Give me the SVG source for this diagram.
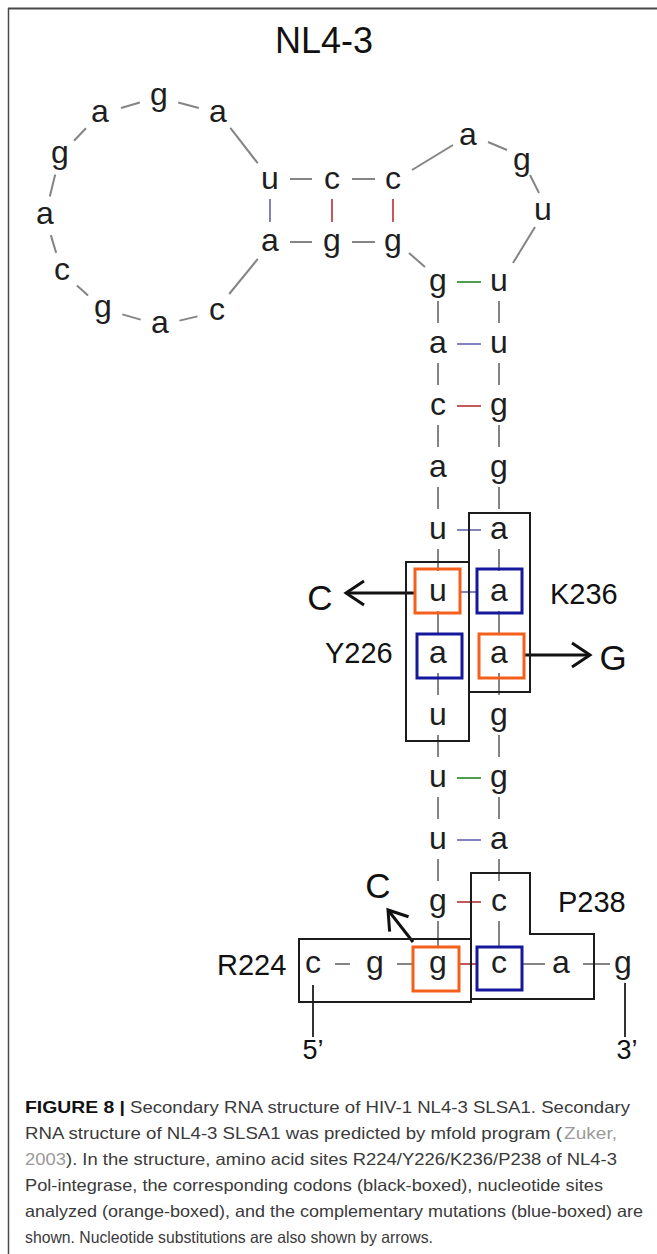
<svg xmlns="http://www.w3.org/2000/svg" width="657" height="1254" viewBox="0 0 657 1254">
  <style>
    .nt { font-family: "Liberation Sans", Arial, sans-serif; font-size: 32px; fill: #1e1e1e; text-anchor: middle; }
    .lbl { font-family: "Liberation Sans", Arial, sans-serif; font-size: 29px; fill: #111; }
    .sub { font-family: "Liberation Sans", Arial, sans-serif; font-size: 35px; fill: #111; text-anchor: middle; }
    .bb { stroke: #848484; stroke-width: 2; fill: none; }
    .au { stroke: #8282bc; stroke-width: 2; }
    .gc { stroke: #c4585a; stroke-width: 2; }
    .gu { stroke: #4e9e50; stroke-width: 2; }
    .end { stroke: #333; stroke-width: 2; }
    .codon { fill: none; stroke: #1c1c1c; stroke-width: 2; }
    .site { fill: none; stroke: #f4601c; stroke-width: 3; }
    .comp { fill: none; stroke: #15189a; stroke-width: 3; }
    .arr { stroke: #111; stroke-width: 3; fill: none; marker-end: url(#chev); }
    .cap { font-family: "Liberation Sans", Arial, sans-serif; font-size: 16.5px; fill: #3a3a3a; }
    .capb { font-family: "Liberation Sans", Arial, sans-serif; font-size: 16.5px; font-weight: bold; fill: #111; }
    .ref { fill: #9a9a9a; }
  </style>
  <defs>
    <marker id="chev" viewBox="-2 -14 24 28" refX="18" refY="0" markerWidth="24" markerHeight="28" markerUnits="userSpaceOnUse" orient="auto">
      <path d="M0,-12 L18,0 L0,12" fill="none" stroke="#111" stroke-width="3"/>
    </marker>
  </defs>

  <rect width="657" height="1254" fill="#fff"/>
  <!-- figure frame: top rule and left rule -->
  <line x1="8" y1="8.5" x2="657" y2="8.5" stroke="#4a4a4a" stroke-width="2"/>
  <line x1="8.5" y1="8" x2="8.5" y2="1254" stroke="#4a4a4a" stroke-width="1.5"/>

  <text id="title" x="324" y="53" font-family="'Liberation Sans', Arial, sans-serif" font-size="36" fill="#111" text-anchor="middle">NL4-3</text>

  <!-- backbone and base-pair connectors -->
  <g id="connectors">
    <!-- terminal leads -->
    <line class="end" x1="313" y1="985" x2="313" y2="1037"/>
    <line class="end" x1="625" y1="983" x2="625" y2="1037"/>
    <!-- bottom row backbone -->
    <line class="bb" x1="335" y1="964" x2="350" y2="964"/>
    <line class="bb" x1="397" y1="964" x2="413" y2="964"/>
    <line class="bb" x1="523" y1="964" x2="545" y2="964"/>
    <line class="bb" x1="583" y1="964" x2="610" y2="964"/>
    <!-- stem backbone, left column -->
    <line class="bb" x1="438" y1="301" x2="438" y2="323"/>
    <line class="bb" x1="438" y1="363" x2="438" y2="385"/>
    <line class="bb" x1="438" y1="425" x2="438" y2="447"/>
    <line class="bb" x1="438" y1="487" x2="438" y2="509"/>
    <line class="bb" x1="438" y1="549" x2="438" y2="571"/>
    <line class="bb" x1="438" y1="611" x2="438" y2="633"/>
    <line class="bb" x1="438" y1="673" x2="438" y2="695"/>
    <line class="bb" x1="438" y1="735" x2="438" y2="757"/>
    <line class="bb" x1="438" y1="797" x2="438" y2="819"/>
    <line class="bb" x1="438" y1="859" x2="438" y2="881"/>
    <line class="bb" x1="438" y1="921" x2="438" y2="947"/>
    <!-- stem backbone, right column -->
    <line class="bb" x1="499" y1="301" x2="499" y2="323"/>
    <line class="bb" x1="499" y1="363" x2="499" y2="385"/>
    <line class="bb" x1="499" y1="425" x2="499" y2="447"/>
    <line class="bb" x1="499" y1="487" x2="499" y2="509"/>
    <line class="bb" x1="499" y1="549" x2="499" y2="571"/>
    <line class="bb" x1="499" y1="611" x2="499" y2="633"/>
    <line class="bb" x1="499" y1="673" x2="499" y2="695"/>
    <line class="bb" x1="499" y1="735" x2="499" y2="757"/>
    <line class="bb" x1="499" y1="797" x2="499" y2="819"/>
    <line class="bb" x1="499" y1="859" x2="499" y2="881"/>
    <line class="bb" x1="499" y1="921" x2="499" y2="947"/>
    <!-- stem base pairs -->
    <line class="gu" x1="457" y1="282" x2="481" y2="282"/>
    <line class="au" x1="457" y1="344" x2="481" y2="344"/>
    <line class="gc" x1="457" y1="406" x2="481" y2="406"/>
    <line class="au" x1="457" y1="530" x2="481" y2="530"/>
    <line class="au" x1="460" y1="592" x2="477" y2="592" stroke-width="1.5"/>
    <line class="gu" x1="457" y1="778" x2="481" y2="778"/>
    <line class="au" x1="457" y1="840" x2="481" y2="840"/>
    <line class="gc" x1="457" y1="902" x2="481" y2="902"/>
    <line class="gc" x1="460" y1="964" x2="477" y2="964"/>
    <!-- internal pairs and bulge backbone -->
    <line class="bb" x1="290" y1="179" x2="312" y2="179"/>
    <line class="bb" x1="352" y1="179" x2="375" y2="179"/>
    <line class="bb" x1="290" y1="242" x2="312" y2="242"/>
    <line class="bb" x1="352" y1="242" x2="375" y2="242"/>
    <line class="au" x1="270" y1="199" x2="270" y2="222"/>
    <line class="gc" x1="332" y1="199" x2="332" y2="222"/>
    <line class="gc" x1="393" y1="199" x2="393" y2="222"/>
    <line class="bb" x1="409" y1="253" x2="425" y2="267"/>
    <!-- hairpin loop -->
    <line class="bb" x1="412" y1="170" x2="453" y2="145"/>
    <line class="bb" x1="488" y1="142" x2="507" y2="150"/>
    <line class="bb" x1="530" y1="175" x2="539" y2="193"/>
    <line class="bb" x1="535" y1="227" x2="513" y2="263"/>
    <!-- large internal loop -->
    <line class="bb" x1="257.8" y1="258.9" x2="229.2" y2="294"/>
    <line class="bb" x1="197.5" y1="316.4" x2="179.5" y2="320.6"/>
    <line class="bb" x1="140.7" y1="319.6" x2="122.3" y2="314.4"/>
    <line class="bb" x1="88.1" y1="295.6" x2="76.9" y2="285.4"/>
    <line class="bb" x1="56.2" y1="252.9" x2="50.8" y2="235.1"/>
    <line class="bb" x1="49.8" y1="196.6" x2="55.2" y2="174.4"/>
    <line class="bb" x1="74" y1="140.7" x2="86" y2="128.3"/>
    <line class="bb" x1="121" y1="108" x2="139.8" y2="102.5"/>
    <line class="bb" x1="178.2" y1="102.5" x2="198.8" y2="108"/>
    <line class="bb" x1="230.3" y1="127.8" x2="257.7" y2="163.2"/>
    <!-- substitution arrows -->
    <line class="arr" x1="415" y1="593" x2="346" y2="593"/>
    <line class="arr" x1="524" y1="655" x2="590" y2="655"/>
    <line class="arr" x1="413" y1="942" x2="388" y2="910"/>
  </g>

  <!-- codon boxes -->
  <g id="codon-Y226"><rect class="codon" x="406" y="562" width="63" height="179"/></g>
  <g id="codon-K236"><rect class="codon" x="469" y="513" width="61" height="179"/></g>
  <g id="codon-R224"><rect class="codon" x="299" y="939" width="172" height="63"/></g>
  <g id="codon-P238"><path class="codon" d="M471,873 H530 V934 H594 V999 H471 Z"/></g>

  <!-- analysed sites and complementary mutations -->
  <g id="site-u593"><rect class="site" x="415" y="569" width="45" height="44"/></g>
  <g id="comp-a593"><rect class="comp" x="477" y="569" width="45" height="44"/></g>
  <g id="comp-a655"><rect class="comp" x="417" y="634" width="45" height="44"/></g>
  <g id="site-a655"><rect class="site" x="479" y="634" width="45" height="44"/></g>
  <g id="site-g965"><rect class="site" x="413" y="947" width="46" height="44"/></g>
  <g id="comp-c965"><rect class="comp" x="477" y="947" width="45" height="43"/></g>

  <!-- nucleotides, 5' to 3' -->
  <g id="n1"><text class="nt" x="313" y="973">c</text></g>
  <g id="n2"><text class="nt" x="375" y="973">g</text></g>
  <g id="n3"><text class="nt" x="438" y="973">g</text></g>
  <g id="n4"><text class="nt" x="438" y="911">g</text></g>
  <g id="n5"><text class="nt" x="438" y="849">u</text></g>
  <g id="n6"><text class="nt" x="438" y="787">u</text></g>
  <g id="n7"><text class="nt" x="438" y="725">u</text></g>
  <g id="n8"><text class="nt" x="438" y="663">a</text></g>
  <g id="n9"><text class="nt" x="438" y="601">u</text></g>
  <g id="n10"><text class="nt" x="438" y="539">u</text></g>
  <g id="n11"><text class="nt" x="438" y="477">a</text></g>
  <g id="n12"><text class="nt" x="438" y="415">c</text></g>
  <g id="n13"><text class="nt" x="438" y="353">a</text></g>
  <g id="n14"><text class="nt" x="438" y="291">g</text></g>
  <g id="n15"><text class="nt" x="393" y="251">g</text></g>
  <g id="n16"><text class="nt" x="332" y="251">g</text></g>
  <g id="n17"><text class="nt" x="270" y="251">a</text></g>
  <g id="n18"><text class="nt" x="217" y="320">c</text></g>
  <g id="n19"><text class="nt" x="160" y="333">a</text></g>
  <g id="n20"><text class="nt" x="103" y="317">g</text></g>
  <g id="n21"><text class="nt" x="62" y="280">c</text></g>
  <g id="n22"><text class="nt" x="45" y="224">a</text></g>
  <g id="n23"><text class="nt" x="60" y="163">g</text></g>
  <g id="n24"><text class="nt" x="100" y="122">a</text></g>
  <g id="n25"><text class="nt" x="159" y="105">g</text></g>
  <g id="n26"><text class="nt" x="218" y="122">a</text></g>
  <g id="n27"><text class="nt" x="270" y="189">u</text></g>
  <g id="n28"><text class="nt" x="332" y="189">c</text></g>
  <g id="n29"><text class="nt" x="393" y="189">c</text></g>
  <g id="n30"><text class="nt" x="468" y="145">a</text></g>
  <g id="n31"><text class="nt" x="522" y="170">g</text></g>
  <g id="n32"><text class="nt" x="543" y="220">u</text></g>
  <g id="n33"><text class="nt" x="499" y="291">u</text></g>
  <g id="n34"><text class="nt" x="499" y="353">u</text></g>
  <g id="n35"><text class="nt" x="499" y="415">g</text></g>
  <g id="n36"><text class="nt" x="499" y="477">g</text></g>
  <g id="n37"><text class="nt" x="499" y="539">a</text></g>
  <g id="n38"><text class="nt" x="499" y="601">a</text></g>
  <g id="n39"><text class="nt" x="499" y="663">a</text></g>
  <g id="n40"><text class="nt" x="499" y="725">g</text></g>
  <g id="n41"><text class="nt" x="499" y="787">g</text></g>
  <g id="n42"><text class="nt" x="499" y="849">a</text></g>
  <g id="n43"><text class="nt" x="499" y="911">c</text></g>
  <g id="n44"><text class="nt" x="499" y="973">c</text></g>
  <g id="n45"><text class="nt" x="561" y="973">a</text></g>
  <g id="n46"><text class="nt" x="623" y="973">g</text></g>

  <!-- ends, site labels and substitutions -->
  <g id="end5"><text x="313" y="1059" font-family="'Liberation Sans', Arial, sans-serif" font-size="27" fill="#111" text-anchor="middle">5’</text></g>
  <g id="end3"><text x="627" y="1059" font-family="'Liberation Sans', Arial, sans-serif" font-size="27" fill="#111" text-anchor="middle">3’</text></g>
  <g id="lbl-K236"><text class="lbl" x="550" y="604">K236</text></g>
  <g id="lbl-Y226"><text class="lbl" x="325" y="663">Y226</text></g>
  <g id="lbl-R224"><text class="lbl" x="217" y="975" font-size="30">R224</text></g>
  <g id="lbl-P238"><text class="lbl" x="558" y="912" font-size="30">P238</text></g>
  <g id="sub-C1"><text class="sub" x="320" y="610">C</text></g>
  <g id="sub-G"><text class="sub" x="613" y="670">G</text></g>
  <g id="sub-C2"><text class="sub" x="378" y="898" font-size="33">C</text></g>

  <!-- caption -->
  <g id="caption">
    <text class="capb" x="25" y="1113" textLength="100" lengthAdjust="spacingAndGlyphs">FIGURE 8 |</text>
    <text class="cap" x="130" y="1113" textLength="500" lengthAdjust="spacingAndGlyphs">Secondary RNA structure of HIV-1 NL4-3 SLSA1. Secondary</text>
    <text class="cap" x="25" y="1139" textLength="537" lengthAdjust="spacingAndGlyphs">RNA structure of NL4-3 SLSA1 was predicted by mfold program (</text>
    <text class="cap ref" x="564" y="1139" textLength="53" lengthAdjust="spacingAndGlyphs">Zuker,</text>
    <text class="cap" x="25" y="1165" textLength="592" lengthAdjust="spacingAndGlyphs"><tspan class="ref">2003</tspan>). In the structure, amino acid sites R224/Y226/K236/P238 of NL4-3</text>
    <text class="cap" x="25" y="1191" textLength="578" lengthAdjust="spacingAndGlyphs">Pol-integrase, the corresponding codons (black-boxed), nucleotide sites</text>
    <text class="cap" x="25" y="1217" textLength="618" lengthAdjust="spacingAndGlyphs">analyzed (orange-boxed), and the complementary mutations (blue-boxed) are</text>
    <text class="cap" x="25" y="1243" textLength="408" lengthAdjust="spacingAndGlyphs">shown. Nucleotide substitutions are also shown by arrows.</text>
  </g>
</svg>
